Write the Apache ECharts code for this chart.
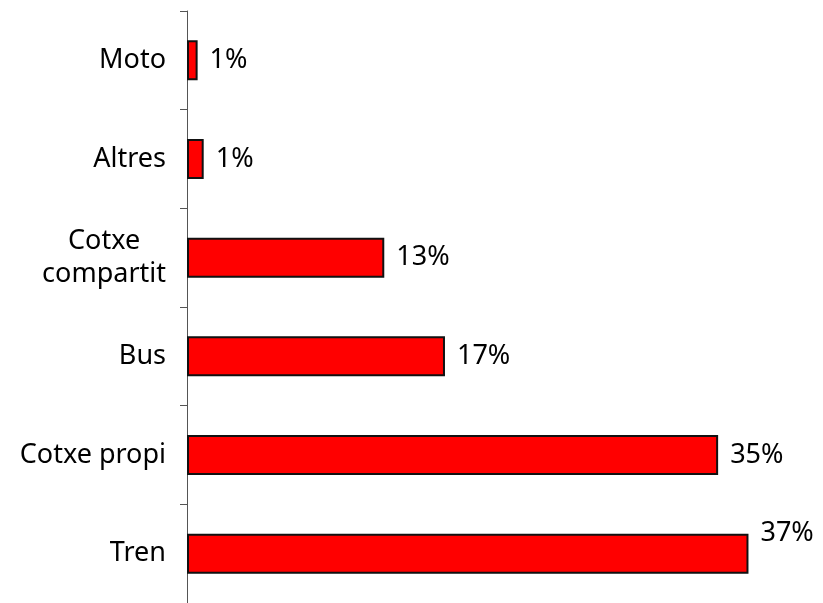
<!DOCTYPE html>
<html>
<head>
    <meta charset="utf-8">
    <title></title>
    <script src="https://cdn.jsdelivr.net/npm/echarts@6/dist/echarts.min.js"></script>
    <style>
        html, body { margin: 0; padding: 0; background: #fff; }
    </style>
</head>
<body>
<div id="main" style="width: 823px;height:603px;"></div>
<script type="text/javascript">
// bottom to top, as drawn
var categories = ['Tren', 'Cotxe propi', 'Bus', 'Cotxe\ncompartit', 'Altres', 'Moto'];
var shares = [37, 35, 17, 13, 1.1, 0.7];

var FONT = '"Noto Sans", sans-serif';

var myChart = echarts.init(document.getElementById('main'));

var barData = shares.map(function (v, i) {
    var item = {value: v};
    // top bar label sits above the bar end
    if (i === 0) {
        item.label = {offset: [0, -20]};
    }
    return item;
});

myChart.setOption({
    animation: false,
    grid: {left: 187, right: 29, top: 11, bottom: -5},
    xAxis: {
        type: 'value',
        min: 0,
        max: 40,
        show: false
    },
    yAxis: {
        type: 'category',
        data: categories,
        axisLine: {show: true, lineStyle: {color: '#555', width: 1}},
        axisTick: {show: true, length: 7, lineStyle: {color: '#555'}},
        axisLabel: {
            margin: 21,
            fontSize: 27,
            fontFamily: FONT,
            color: '#000',
            formatter: function (v) {
                if (v.indexOf('\n') >= 0) {
                    return v.split('\n').map(function (s) { return '{c|' + s + '}'; }).join('\n');
                }
                return v;
            },
            rich: {
                c: {align: 'center', fontSize: 27, fontFamily: FONT, color: '#000', lineHeight: 33}
            }
        },
        splitLine: {show: false}
    },
    series: [
        {
            type: 'bar',
            data: barData,
            barWidth: 40,
            itemStyle: {color: '#ff0000', borderColor: '#111', borderWidth: 2},
            label: {
                show: true,
                position: 'right',
                distance: 12,
                fontSize: 27,
                fontFamily: FONT,
                color: '#000',
                formatter: function (p) { return Math.round(p.value) + '%'; }
            }
        }
    ]
});
</script>
</body>
</html>
